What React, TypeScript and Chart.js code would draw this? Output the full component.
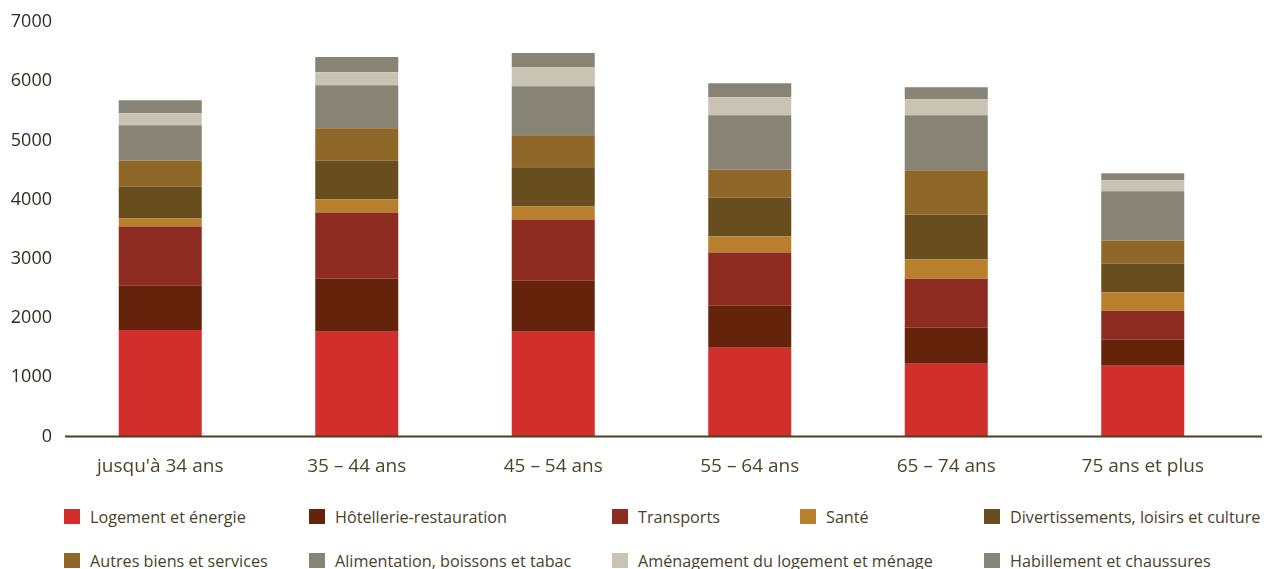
import React, { useEffect, useRef } from "react";
import { Chart, registerables } from "chart.js";

Chart.register(...registerables);

const categories = ["jusqu'à 34 ans", "35 – 44 ans", "45 – 54 ans", "55 – 64 ans", "65 – 74 ans", "75 ans et plus"];

const seriesLabels = [
  "Logement et énergie",
  "Hôtellerie-restauration",
  "Transports",
  "Santé",
  "Divertissements, loisirs et culture",
  "Autres biens et services",
  "Alimentation, boissons et tabac",
  "Aménagement du logement et ménage",
  "Habillement et chaussures",
];

const logement = [1800, 1769, 1769, 1498, 1227, 1194];
const hotellerie = [745, 897, 863, 711, 609, 440];
const transports = [1000, 1117, 1033, 897, 830, 491];
const sante = [135, 220, 220, 271, 322, 305];
const divertissements = [542, 660, 660, 660, 762, 491];
const autres = [440, 542, 542, 474, 745, 389];
const alimentation = [593, 728, 830, 914, 931, 830];
const amenagement = [203, 220, 322, 305, 271, 186];
const habillement = [220, 254, 237, 237, 203, 119];

const yTicks = [0, 1000, 2000, 3000, 4000, 5000, 6000, 7000];
const yTickLabels = ["0", "1000", "2000", "3000", "4000", "5000", "6000", "7000"];

const colors = ["#D12E2C", "#64230A", "#8E2C22", "#B8802C", "#684E1F", "#8F6729", "#878375", "#C8C3B2", "#878375"];

const seriesValues = [logement, hotellerie, transports, sante, divertissements, autres, alimentation, amenagement, habillement];

// legend layout (row, left position in px)
const legendSlots = [
  [0, 64], [0, 309], [0, 612], [0, 800], [0, 984],
  [1, 64], [1, 309], [1, 612], [1, 984],
];

const FONT = "'Open Sans', 'Noto Sans', sans-serif";

export default function App() {
  const canvasRef = useRef<HTMLCanvasElement | null>(null);

  useEffect(() => {
    const canvas = canvasRef.current;
    if (!canvas) return;
    const baseline = {
      id: "baseline",
      afterDatasetsDraw(chart: any) {
        const { ctx } = chart;
        const y = chart.scales.y.getPixelForValue(0);
        ctx.save();
        ctx.strokeStyle = "#4B3F1E";
        ctx.lineWidth = 2;
        ctx.beginPath();
        ctx.moveTo(65, y);
        ctx.lineTo(1262, y);
        ctx.stroke();
        ctx.restore();
      },
    };
    const chart = new Chart(canvas, {
      type: "bar",
      data: {
        labels: categories,
        datasets: seriesValues.map((vals, i) => ({
          label: seriesLabels[i],
          data: vals,
          backgroundColor: colors[i],
          borderWidth: 0,
          categoryPercentage: 1,
          barPercentage: 0.4224,
        })),
      },
      options: {
        animation: false,
        responsive: false,
        maintainAspectRatio: false,
        layout: { padding: { top: 22, right: 23, left: 0, bottom: 0 } },
        plugins: { legend: { display: false }, tooltip: { enabled: false } },
        scales: {
          x: {
            stacked: true,
            grid: { display: false, drawTicks: false },
            border: { display: false },
            ticks: {
              color: "#4F4526",
              font: { family: FONT, size: 19 },
              padding: 19,
              maxRotation: 0,
            },
            afterFit(scale: any) {
              scale.height = 41.5;
            },
          },
          y: {
            stacked: true,
            min: 0,
            max: 7000,
            grid: { display: false, drawTicks: false },
            border: { display: false },
            afterBuildTicks(scale: any) {
              scale.ticks = yTicks.map((v) => ({ value: v }));
            },
            ticks: {
              color: "#332A22",
              font: { family: FONT, size: 18 },
              padding: 10,
              callback: (_v: any, idx: number) => yTickLabels[idx],
            },
            afterFit(scale: any) {
              scale.width = 62;
            },
          },
        },
      },
      plugins: [baseline],
    });
    return () => chart.destroy();
  }, []);

  return (
    <div style={{ position: "fixed", left: 0, top: 0, width: 1264, height: 569, overflow: "hidden", background: "#fff" }}>
      <canvas ref={canvasRef} width={1264} height={478} style={{ position: "absolute", left: 0, top: 0, width: 1264, height: 478 }} />
      {seriesLabels.map((label, i) => {
        const [row, left] = legendSlots[i];
        const top = row === 0 ? 509 : 553;
        return (
          <div key={label} style={{ position: "absolute", left, top, height: 15, display: "flex", alignItems: "center", whiteSpace: "nowrap" }}>
            <span style={{ display: "inline-block", width: 16, height: 15, background: colors[i] }} />
            <span style={{ marginLeft: 10, fontFamily: FONT, fontSize: 16.2, color: "#4A4128", lineHeight: "15px", position: "relative", top: 1 }}>{label}</span>
          </div>
        );
      })}
    </div>
  );
}
